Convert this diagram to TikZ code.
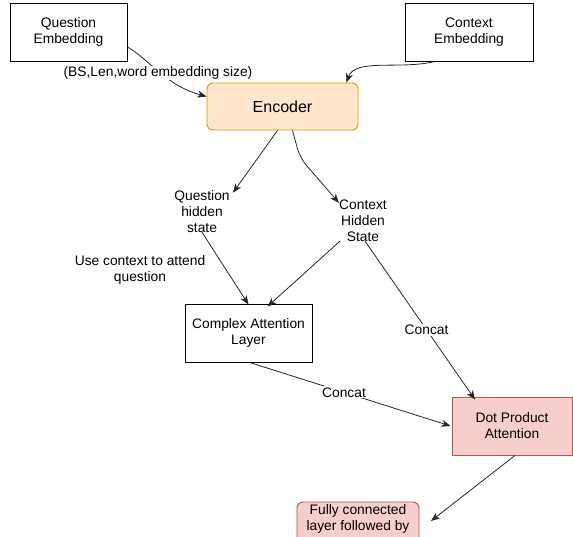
\documentclass[tikz,border=0pt]{standalone}
\usepackage{fontspec}
\setmainfont{Liberation Sans}
\usetikzlibrary{arrows.meta}
\definecolor{encfill}{HTML}{FFE6CC}
\definecolor{encdraw}{HTML}{D79B00}
\definecolor{redfill}{HTML}{F8CECC}
\definecolor{reddraw}{HTML}{B85450}
\begin{document}
\begin{tikzpicture}[x=1pt,y=-1pt,
  every node/.style={font=\fontsize{13.8}{16}\selectfont, align=center, inner sep=0pt},
  plainbox/.style={draw=black, line width=0.9pt, fill=white, minimum width=#1, minimum height=58pt},
  encbox/.style={draw=encdraw, fill=encfill, line width=0.9pt, rounded corners=6pt, minimum width=151pt, minimum height=47pt, font=\fontsize{16}{19}\selectfont},
  redbox/.style={draw=reddraw, fill=redfill, line width=0.9pt, minimum width=#1, minimum height=58pt},
  lbl/.style={fill=white, inner sep=1pt},
  conn/.style={draw=black!85, line width=0.8pt, -{Stealth[length=9pt,width=7pt,inset=2.5pt]}}
]
\useasboundingbox (0,0) rectangle (573,537);
\clip (0,0) rectangle (573,537);

\node[plainbox=117pt] (qemb) at (68.5,32) {Question\\Embedding};
\node[plainbox=128pt] (cemb) at (469,32) {Context\\Embedding};
\node[encbox] (enc) at (282.5,106.5) {Encoder};
\node (qh) at (202,212) {Question\\hidden\\state};
\node (ch) at (363,221) {Context\\Hidden\\State};
\node (use) at (140,270) {Use context to attend\\question};
\node[plainbox=127pt] (cal) at (248.5,333) {Complex Attention\\Layer};
\node[redbox=120pt] (dot) at (512,426) {Dot Product\\Attention};
\node[draw=reddraw, fill=redfill, line width=0.9pt, rounded corners=6pt, minimum width=122pt, minimum height=60pt] (fc) at (358,532) {};
\node (fctext) at (358,519) {Fully connected\\layer followed by};
\coordinate (fcin) at (431,521);

\draw[conn] ([yshift=-15pt]qemb.east) .. controls (150,60) and (165,85) .. ([yshift=10pt]enc.west);
\node[lbl] (qlbl) at (158,73) {(BS,Len,word embedding size)};
\draw[conn] ([xshift=-34pt]cemb.south) .. controls (400,70) and (355,58) .. ([xshift=64pt]enc.north);
\draw[conn] ([xshift=-5pt]enc.south) -- ([xshift=31pt,yshift=-2pt]qh.north);
\draw[conn, rounded corners=10pt] ([xshift=10pt]enc.south) -- (300,158) -- ([xshift=-24pt,yshift=-3pt]ch.north);
\draw[conn] ([yshift=1pt]qh.south) -- ([yshift=-1pt]cal.north);
\draw[conn] ([xshift=-23pt,yshift=1pt]ch.south) -- ([xshift=19pt,yshift=-3pt]cal.north);
\draw[conn] ([xshift=2pt,yshift=1pt]ch.south) -- node[lbl, pos=0.56] {Concat} ([xshift=-37pt,yshift=-3pt]dot.north);
\draw[conn] ([xshift=1pt]cal.south) -- node[lbl, pos=0.47] {Concat} ([xshift=-1pt]dot.west);
\draw[conn] ([xshift=3pt]dot.south) -- (fcin);
\end{tikzpicture}
\end{document}
